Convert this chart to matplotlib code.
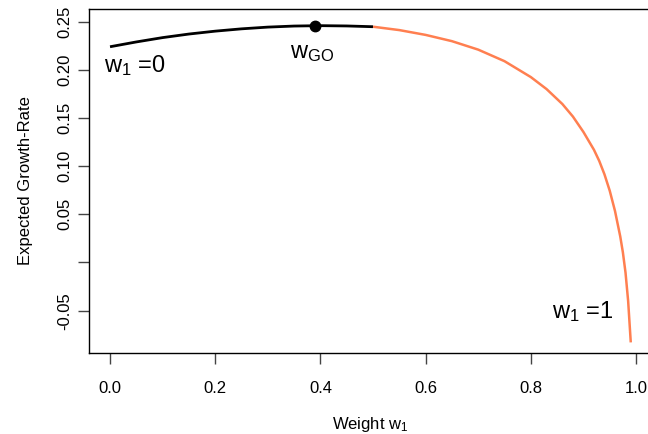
import matplotlib

matplotlib.use("Agg")
import matplotlib.pyplot as plt

plt.rcParams["font.family"] = ["Liberation Sans", "DejaVu Sans"]
plt.rcParams["mathtext.fontset"] = "custom"
plt.rcParams["mathtext.rm"] = "Liberation Sans"
plt.rcParams["mathtext.it"] = "Liberation Sans"

# curve: weight w1 -> expected growth rate
weights = [0.00, 0.05, 0.10, 0.15, 0.20, 0.25, 0.30, 0.35, 0.40, 0.45, 0.50,
           0.55, 0.60, 0.65, 0.70, 0.75, 0.80, 0.83, 0.86, 0.88, 0.90, 0.92,
           0.93, 0.94, 0.95, 0.96, 0.97, 0.975, 0.98, 0.985, 0.99]
growth = [0.2240, 0.2290, 0.2335, 0.2372, 0.2402, 0.2426, 0.2444, 0.2455, 0.2459, 0.2456, 0.2448,
          0.2413, 0.2363, 0.2298, 0.2210, 0.2090, 0.1925, 0.1800, 0.1645, 0.1515, 0.1355, 0.1170,
          0.1055, 0.0915, 0.0745, 0.0535, 0.0270, 0.0105, -0.0105, -0.0400, -0.0830]
split_at = 10  # black part ends at w1 = 0.5

w_go = 0.39
g_go = 0.2460

x_ticks = [0.0, 0.2, 0.4, 0.6, 0.8, 1.0]
x_labels = ["0.0", "0.2", "0.4", "0.6", "0.8", "1.0"]
y_ticks = [-0.05, 0.00, 0.05, 0.10, 0.15, 0.20, 0.25]
y_labels = ["-0.05", "", "0.05", "0.10", "0.15", "0.20", "0.25"]

fig = plt.figure(figsize=(6.48, 4.34), dpi=100)
ax = fig.add_axes([89.2 / 648, 81 / 434, 562.4 / 648, 344 / 434])

ax.plot(weights[: split_at + 1], growth[: split_at + 1], color="black", lw=2.0,
        solid_capstyle="butt")
ax.plot(weights[split_at:], growth[split_at:], color="#FF7F50", lw=1.8,
        solid_capstyle="butt")
ax.plot([w_go], [g_go], "o", color="black", markersize=7.5)

ax.text(-0.012, 0.204, "w$_1$ =0", fontsize=17, ha="left", va="center")
ax.text(w_go - 0.005, 0.217, "w$_{\\mathrm{GO}}$", fontsize=17, ha="center", va="center")
ax.text(0.84, -0.051, "w$_1$ =1", fontsize=17, ha="left", va="center")

ax.set_xlim(-0.0396, 1.0296)
ax.set_ylim(-0.0940, 0.2632)
ax.set_xticks(x_ticks)
ax.set_xticklabels(x_labels)
ax.set_yticks(y_ticks)
ax.set_yticklabels(y_labels, rotation=90, va="center")
ax.tick_params(axis="both", direction="out", length=8, width=1, labelsize=12,
               color="#444444")
ax.tick_params(axis="x", pad=12)
ax.tick_params(axis="y", pad=4)
for spine in ax.spines.values():
    spine.set_linewidth(1.0)

ax.set_xlabel("Weight w$_1$", fontsize=12, labelpad=14)
ax.set_ylabel("Expected Growth-Rate", fontsize=12, labelpad=18)

fig.savefig("out.png", dpi=100)
plt.close(fig)
